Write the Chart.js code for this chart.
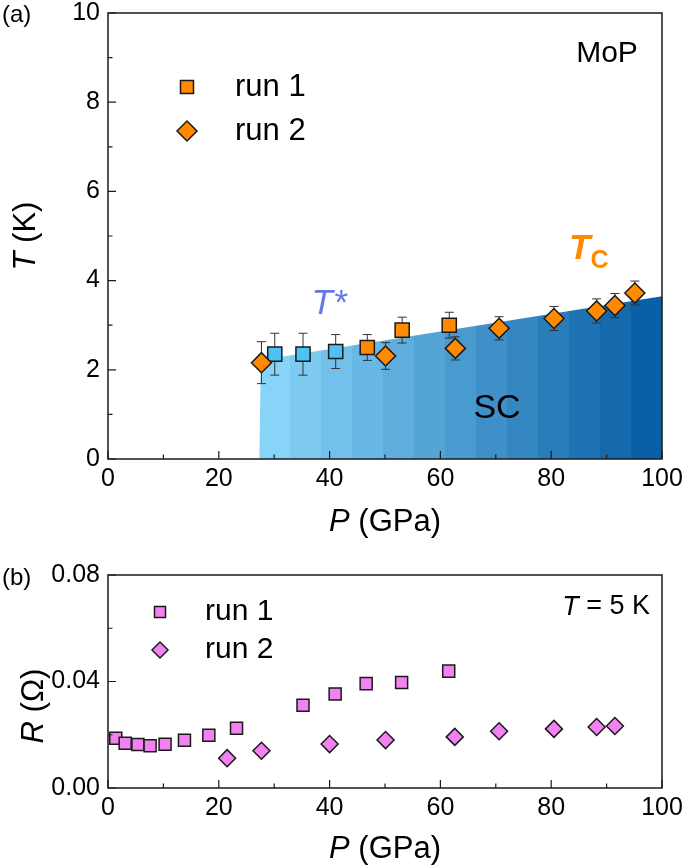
<!DOCTYPE html>
<html>
<head>
<meta charset="utf-8">
<script src="https://cdn.jsdelivr.net/npm/chart.js@4.4.1/dist/chart.umd.min.js"></script>
<style>
  html, body { margin: 0; padding: 0; background: #fff; }
  #wrap { position: relative; width: 685px; height: 867px; }
  canvas { position: absolute; left: 0; }
  #top { top: 0; }
  #bot { top: 545px; }
</style>
</head>
<body>
<div id="wrap">
  <canvas id="top" width="685" height="545" style="width:685px;height:545px"></canvas>
  <canvas id="bot" width="685" height="322" style="width:685px;height:322px"></canvas>
</div>
<script>
// --- data ---
const seriesNames = ['run 1', 'run 2'];

// (a) T vs P
const run1P = [30.1, 35.2, 41.1, 46.8, 53.1, 61.6];
const run1T = [2.35, 2.35, 2.41, 2.50, 2.89, 3.00];
const run1Err = [0.47, 0.47, 0.38, 0.29, 0.29, 0.29];
const run1Kind = ['T*', 'T*', 'T*', 'Tc', 'Tc', 'Tc'];
const run2P = [27.7, 50.1, 62.7, 70.6, 80.5, 88.2, 91.5, 95.1];
const run2T = [2.16, 2.31, 2.48, 2.93, 3.15, 3.32, 3.44, 3.72];
const run2Err = [0.47, 0.30, 0.26, 0.26, 0.27, 0.27, 0.27, 0.27];
// edge of the SC region
const scEdgeP = [27.3, 27.6, 100];
const scEdgeT = [0, 2.22, 3.65];

// (b) R vs P at 5 K
const rRun1P = [1.4, 3.1, 5.4, 7.6, 10.3, 13.8, 18.2, 23.2, 35.2, 41.0, 46.6, 53.0, 61.5];
const rRun1R = [0.0187, 0.0168, 0.0163, 0.0159, 0.0164, 0.0179, 0.0198, 0.0224, 0.0311, 0.0353, 0.0392, 0.0396, 0.0439];
const rRun2P = [21.5, 27.7, 40.0, 50.1, 62.6, 70.6, 80.5, 88.2, 91.5];
const rRun2R = [0.0112, 0.0140, 0.0165, 0.0180, 0.0192, 0.0213, 0.0222, 0.0229, 0.0233];

const FONT = '"Liberation Sans", Arial, Helvetica, sans-serif';
const ORANGE = '#ff8a00';
const CYAN = '#4cc2f5';
const PINK = '#f282f2';
const EDGE = '#1a1a1a';

const pts = (xs, ys) => xs.map((x, i) => ({ x: x, y: ys[i] }));

function mix(a, b, f) {
  const c = a.map((v, i) => Math.round(v + (b[i] - v) * f));
  return `rgb(${c[0]},${c[1]},${c[2]})`;
}

// banded blue fill like the original
function scFill(context) {
  const chart = context.chart;
  const a = chart.chartArea;
  if (!a) return 'rgba(0,0,0,0)';
  const x0 = chart.scales.x.getPixelForValue(scEdgeP[0]);
  const g = chart.ctx.createLinearGradient(x0, 0, a.right, 0);
  const n = 13;
  for (let i = 0; i < n; i++) {
    const c = mix([136, 212, 248], [10, 96, 166], i / (n - 1));
    g.addColorStop(i / n, c);
    g.addColorStop(Math.min(1, (i + 1) / n - 0.0001), c);
  }
  return g;
}

function drawRich(ctx, parts, x, y, align) {
  let w = 0;
  parts.forEach(p => { ctx.font = p.font; p.w = ctx.measureText(p.text).width; w += p.w; });
  let cx = align === 'center' ? x - w / 2 : align === 'right' ? x - w : x;
  ctx.textAlign = 'left';
  ctx.textBaseline = 'middle';
  parts.forEach(p => {
    ctx.font = p.font;
    ctx.fillStyle = p.color || '#000';
    ctx.fillText(p.text, cx, y + (p.dy || 0));
    cx += p.w;
  });
}

function marker(ctx, kind, x, y, r, fill) {
  ctx.beginPath();
  if (kind === 'rect') {
    const s = Math.SQRT1_2 * r;
    ctx.rect(x - s, y - s, 2 * s, 2 * s);
  } else {
    ctx.moveTo(x - r, y); ctx.lineTo(x, y - r); ctx.lineTo(x + r, y); ctx.lineTo(x, y + r); ctx.closePath();
  }
  ctx.fillStyle = fill;
  ctx.fill();
  ctx.lineWidth = 1.5;
  ctx.strokeStyle = EDGE;
  ctx.stroke();
}

// box, inward ticks, axis titles, extra labels
const framePlugin = {
  id: 'frame',
  afterDraw(chart, args, opts) {
    const { ctx, chartArea: a, scales } = chart;
    ctx.save();
    ctx.strokeStyle = EDGE;
    ctx.lineWidth = 1.5;
    ctx.strokeRect(a.left, a.top, a.right - a.left, a.bottom - a.top);
    ctx.lineWidth = 1.2;
    ctx.beginPath();
    scales.x.ticks.forEach(t => {
      const px = scales.x.getPixelForValue(t.value);
      const len = t.label ? 8 : 4.5;
      ctx.moveTo(px, a.bottom); ctx.lineTo(px, a.bottom - len);
    });
    scales.y.ticks.forEach(t => {
      const py = scales.y.getPixelForValue(t.value);
      const len = t.label ? 8 : 4.5;
      ctx.moveTo(a.left, py); ctx.lineTo(a.left + len, py);
    });
    ctx.stroke();

    drawRich(ctx, opts.xTitle, (a.left + a.right) / 2, opts.xTitleY, 'center');
    ctx.save();
    ctx.translate(opts.yTitleX, opts.yTitleY);
    ctx.rotate(-Math.PI / 2);
    drawRich(ctx, opts.yTitle, 0, 0, 'center');
    ctx.restore();

    (opts.texts || []).forEach(t => drawRich(ctx, t.parts, t.x, t.y, t.align));
    (opts.legend || []).forEach(l => {
      marker(ctx, l.kind, l.x, l.y, l.r, l.fill);
      drawRich(ctx, [{ text: l.text, font: l.font }], l.tx, l.y, 'left');
    });
    ctx.restore();
  }
};

// error bars go under the markers, above the blue region
const errPlugin = {
  id: 'errbars',
  afterDatasetDraw(chart, args, opts) {
    if (!opts.sets || args.index !== 0) return;
    const { ctx, scales } = chart;
    ctx.save();
    ctx.strokeStyle = '#333';
    ctx.lineWidth = 1;
    ctx.beginPath();
    opts.sets.forEach(s => {
      s.x.forEach((xv, i) => {
        const px = scales.x.getPixelForValue(xv);
        const top = scales.y.getPixelForValue(s.y[i] + s.e[i]);
        const bot = scales.y.getPixelForValue(s.y[i] - s.e[i]);
        ctx.moveTo(px, top); ctx.lineTo(px, bot);
        ctx.moveTo(px - 4.5, top); ctx.lineTo(px + 4.5, top);
        ctx.moveTo(px - 4.5, bot); ctx.lineTo(px + 4.5, bot);
      });
    });
    ctx.stroke();
    ctx.restore();
  }
};

function axes(yMin, yMax, yStep, yLabel, xh) {
  const tickFont = { family: FONT, size: 25, lineHeight: 1 };
  return {
    x: {
      type: 'linear', min: 0, max: 100,
      afterFit: s => { s.height = xh; s.paddingLeft = 0; s.paddingRight = 0; },
      grid: { display: false, drawTicks: false }, border: { display: false },
      ticks: { stepSize: 10, autoSkip: false, maxRotation: 0, padding: 8, color: '#000', font: tickFont,
        callback: v => (v % 20 === 0 ? String(v) : '') }
    },
    y: {
      type: 'linear', min: yMin, max: yMax,
      afterFit: s => { s.width = 108; s.paddingTop = 0; s.paddingBottom = 0; },
      grid: { display: false, drawTicks: false }, border: { display: false },
      ticks: { stepSize: yStep, autoSkip: false, padding: 8, color: '#000', font: tickFont, callback: yLabel }
    }
  };
}

const big = n => `${n}px ${FONT}`;
const ital = n => `italic ${n}px ${FONT}`;

// ---------- (a) ----------
new Chart(document.getElementById('top'), {
  type: 'scatter',
  data: {
    datasets: [
      {
        type: 'line', data: pts(scEdgeP, scEdgeT), order: 2,
        fill: 'origin', backgroundColor: scFill, borderWidth: 0, borderColor: 'rgba(0,0,0,0)',
        pointRadius: 0, tension: 0
      },
      {
        label: seriesNames[0], data: pts(run1P, run1T), order: 1,
        pointStyle: 'rect', pointRadius: 10, borderWidth: 1.5, borderColor: EDGE,
        pointBackgroundColor: run1Kind.map(k => (k === 'T*' ? CYAN : ORANGE))
      },
      {
        label: seriesNames[1], data: pts(run2P, run2T), order: 0,
        pointStyle: 'rectRot', pointRadius: 10, borderWidth: 1.5, borderColor: EDGE,
        pointBackgroundColor: ORANGE
      }
    ]
  },
  options: {
    responsive: false, animation: false, events: [],
    layout: { padding: { left: 0, right: 23, top: 13, bottom: 0 } },
    scales: axes(0, 10, 1, v => (v % 2 === 0 ? String(v) : ''), 86),
    plugins: {
      legend: { display: false }, tooltip: { enabled: false },
      errbars: { sets: [{ x: run1P, y: run1T, e: run1Err }, { x: run2P, y: run2T, e: run2Err }] },
      frame: {
        xTitle: [{ text: 'P', font: ital(31) }, { text: ' (GPa)', font: big(31) }], xTitleY: 522,
        yTitle: [{ text: 'T', font: ital(31) }, { text: ' (K)', font: big(31) }], yTitleX: 26, yTitleY: 236,
        texts: [
          { parts: [{ text: '(a)', font: big(24) }], x: 2, y: 15, align: 'left' },
          { parts: [{ text: 'MoP', font: big(30) }], x: 607, y: 54, align: 'center' },
          { parts: [{ text: 'T*', font: ital(35), color: '#6678e6' }], x: 329, y: 304, align: 'center' },
          { parts: [{ text: 'T', font: 'bold ' + ital(35), color: ORANGE },
                    { text: 'C', font: 'bold ' + big(25), color: ORANGE, dy: 12 }], x: 569, y: 249, align: 'left' },
          { parts: [{ text: 'SC', font: big(34) }], x: 497, y: 409, align: 'center' }
        ],
        legend: [
          { kind: 'rect', x: 187, y: 87, r: 9.2, fill: ORANGE, text: seriesNames[0], tx: 235, font: big(31) },
          { kind: 'diamond', x: 187, y: 131, r: 10, fill: ORANGE, text: seriesNames[1], tx: 235, font: big(31) }
        ]
      }
    }
  },
  plugins: [errPlugin, framePlugin]
});

// ---------- (b) ----------
new Chart(document.getElementById('bot'), {
  type: 'scatter',
  data: {
    datasets: [
      {
        label: seriesNames[0], data: pts(rRun1P, rRun1R),
        pointStyle: 'rect', pointRadius: 8.5, borderWidth: 1.5, borderColor: EDGE, pointBackgroundColor: PINK
      },
      {
        label: seriesNames[1], data: pts(rRun2P, rRun2R),
        pointStyle: 'rectRot', pointRadius: 8.5, borderWidth: 1.5, borderColor: EDGE, pointBackgroundColor: PINK
      }
    ]
  },
  options: {
    responsive: false, animation: false, events: [],
    layout: { padding: { left: 0, right: 23, top: 30, bottom: 0 } },
    scales: axes(0, 0.08, 0.02, v => (Math.round(v * 100) % 4 === 0 ? v.toFixed(2) : ''), 79),
    plugins: {
      legend: { display: false }, tooltip: { enabled: false },
      frame: {
        xTitle: [{ text: 'P', font: ital(31) }, { text: ' (GPa)', font: big(31) }], xTitleY: 304,
        yTitle: [{ text: 'R', font: ital(31) }, { text: ' (\u03A9)', font: big(31) }], yTitleX: 34, yTitleY: 161,
        texts: [
          { parts: [{ text: '(b)', font: big(24) }], x: 2, y: 33, align: 'left' },
          { parts: [{ text: 'T', font: ital(27) }, { text: ' = 5 K', font: big(27) }], x: 650, y: 62, align: 'right' }
        ],
        legend: [
          { kind: 'rect', x: 160, y: 67, r: 7.8, fill: PINK, text: seriesNames[0], tx: 205, font: big(30) },
          { kind: 'diamond', x: 160, y: 105, r: 8, fill: PINK, text: seriesNames[1], tx: 205, font: big(30) }
        ]
      }
    }
  },
  plugins: [framePlugin]
});
</script>
</body>
</html>
